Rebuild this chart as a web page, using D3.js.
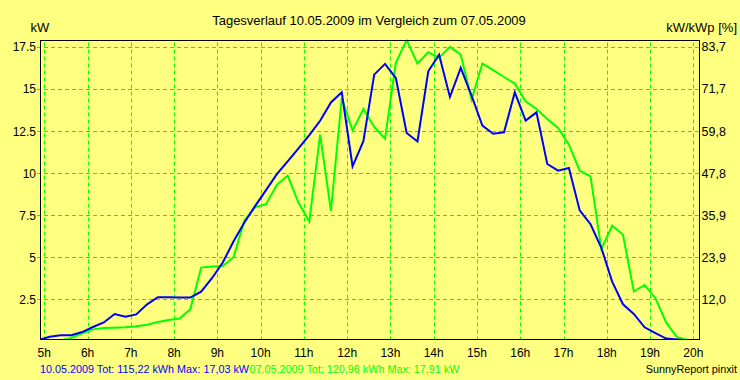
<!DOCTYPE html>
<html>
<head>
<meta charset="utf-8">
<script src="https://cdn.jsdelivr.net/npm/d3@7"></script>
<style>
  html, body { margin: 0; padding: 0; background: #FFFF80; }
  svg { display: block; }
  text { font-family: "Liberation Sans", Arial, sans-serif; }
</style>
</head>
<body>
<div id="chart"></div>
<script>
// ---- data ----
const times = d3.range(62).map(i => 4.875 + i * 0.25); // hour of day (15-min intervals, centred)
const blue10 = [0.08,0.27,0.36,0.36,0.55,0.85,1.12,1.62,1.46,1.6,2.2,2.62,2.62,2.6,2.6,2.95,3.75,4.68,5.95,7.06,8.05,8.99,9.94,10.7,11.47,12.26,13.11,14.2,14.8,10.4,11.9,15.85,16.49,15.65,12.38,11.88,16.05,17.03,14.52,16.25,14.6,12.82,12.34,12.42,14.8,13.12,13.61,10.54,10.14,10.3,7.78,6.96,5.55,3.55,2.2,1.63,0.83,0.48,0.16,0.1,0.05,0.02];
const green07 = [0.0,0.03,0.05,0.2,0.48,0.71,0.79,0.81,0.83,0.89,0.99,1.15,1.27,1.35,1.9,4.38,4.44,4.48,5.0,7.18,7.98,8.15,9.3,9.84,8.25,7.12,12.28,7.76,14.46,12.54,13.81,12.74,12.04,16.55,17.91,16.51,17.18,16.85,17.5,17.04,14.37,16.51,16.12,15.71,15.32,14.27,13.81,13.21,12.68,11.69,10.14,9.8,5.48,6.88,6.33,2.96,3.35,2.56,1.11,0.24,0.08,0.03];
const hourTicks = d3.range(5, 21);
const hourLabels = hourTicks.map(h => h + "h");
const kwTicks = [2.5, 5, 7.5, 10, 12.5, 15, 17.5];
const kwLabels = ["2.5", "5", "7.5", "10", "12.5", "15", "17.5"];
const pctLabels = ["12,0", "23,9", "35,9", "47,8", "59,8", "71,7", "83,7"];
const titleText = "Tagesverlauf 10.05.2009 im Vergleich zum 07.05.2009";
const footerBlue = "10.05.2009 Tot: 115,22 kWh Max: 17,03 kW";
const footerGreen = "07.05.2009 Tot: 120,96 kWh Max: 17,91 kW";
const footerRight = "SunnyReport pinxit";
const yMax = 17.91;

// ---- layout ----
const W = 740, H = 380;
const plot = { left: 40.5, top: 40.5, right: 699.5, bottom: 339.5 };
const GREEN = "#00FF00", BLUE = "#0000FF", BG = "#FFFF80";

const svg = d3.select("#chart").append("svg").attr("width", W).attr("height", H);
svg.append("rect").attr("width", W).attr("height", H).attr("fill", BG);

const x = d3.scaleLinear().domain([5, 20]).range([44.3, 693.3]);
const y = d3.scaleLinear().domain([0, yMax]).range([341.3, 40]);

// clip
svg.append("clipPath").attr("id", "clip").append("rect")
  .attr("x", plot.left).attr("y", plot.top - 1)
  .attr("width", plot.right - plot.left).attr("height", plot.bottom - plot.top + 1.5);

// grid
const grid = svg.append("g").attr("stroke", GREEN).attr("stroke-width", 1).attr("stroke-dasharray", "4,3").attr("fill", "none");
grid.selectAll("line.h").data(kwTicks).join("line").attr("class", "h")
  .attr("x1", 37).attr("x2", plot.right - 1)
  .attr("y1", d => Math.round(y(d)) + 0.5).attr("y2", d => Math.round(y(d)) + 0.5);
grid.selectAll("line.v").data(hourTicks).join("line").attr("class", "v")
  .attr("x1", d => Math.round(x(d)) + 0.5).attr("x2", d => Math.round(x(d)) + 0.5)
  .attr("y1", plot.top + 2).attr("y2", plot.bottom);

// lines
const line = d3.line().x((d, i) => x(times[i])).y(d => y(d));
const lines = svg.append("g").attr("clip-path", "url(#clip)").attr("fill", "none").attr("stroke-width", 2).attr("stroke-linejoin", "miter");
lines.append("path").datum(green07).attr("stroke", GREEN).attr("d", line);
lines.append("path").datum(blue10).attr("stroke", BLUE).attr("d", line);

// border
svg.append("rect").attr("x", plot.left).attr("y", plot.top)
  .attr("width", plot.right - plot.left).attr("height", plot.bottom - plot.top)
  .attr("fill", "none").attr("stroke", "#000").attr("stroke-width", 1);

// left axis labels
svg.append("g").selectAll("text").data(kwTicks).join("text")
  .attr("x", 36).attr("y", d => y(d) + 4.5).attr("text-anchor", "end")
  .attr("font-size", 12).text((d, i) => kwLabels[i]);
// right axis labels
svg.append("g").selectAll("text").data(kwTicks).join("text")
  .attr("x", 701.5).attr("y", d => y(d) + 4.5).attr("text-anchor", "start")
  .attr("font-size", 12.5).text((d, i) => pctLabels[i]);
// bottom axis labels
svg.append("g").selectAll("text").data(hourTicks).join("text")
  .attr("x", d => x(d)).attr("y", 357).attr("text-anchor", "middle")
  .attr("font-size", 12).text((d, i) => hourLabels[i]);

// title & units
svg.append("text").attr("x", 369).attr("y", 25).attr("text-anchor", "middle").attr("font-size", 13).text(titleText);
svg.append("text").attr("x", 30.5).attr("y", 32).attr("font-size", 13).text("kW");
svg.append("text").attr("x", 737).attr("y", 32).attr("text-anchor", "end").attr("font-size", 13).text("kW/kWp [%]");

// footer
const fb = svg.append("text").attr("x", 40).attr("y", 373.3).attr("font-size", 10.8).attr("fill", BLUE).text(footerBlue);
const fbw = fb.node().getComputedTextLength();
svg.append("text").attr("x", 40 + fbw + 0.5).attr("y", 373.3).attr("font-size", 10.8).attr("fill", GREEN).text(footerGreen);
svg.append("text").attr("x", 737).attr("y", 373.3).attr("text-anchor", "end").attr("font-size", 10.8).attr("fill", "#000").text(footerRight);
</script>
</body>
</html>
